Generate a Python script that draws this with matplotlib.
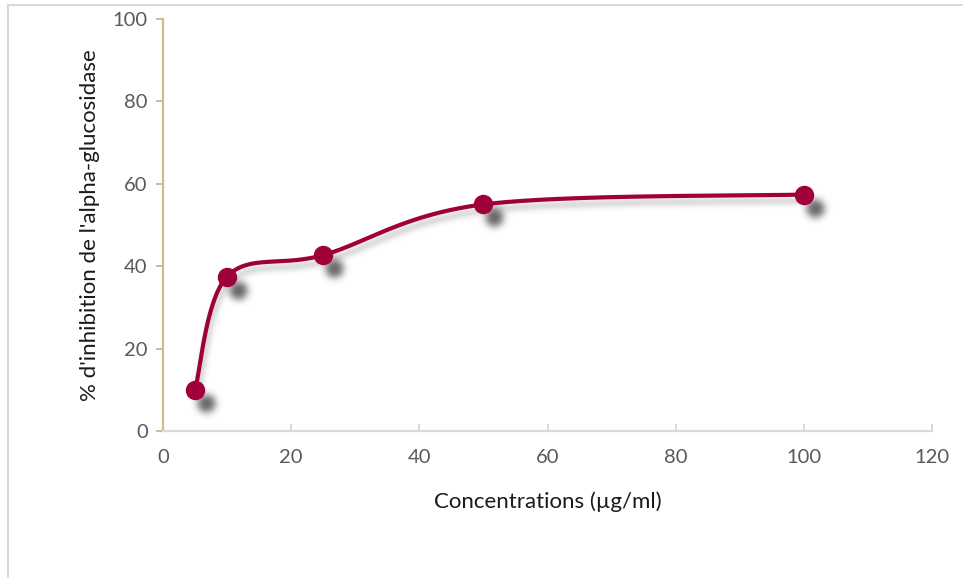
import matplotlib
matplotlib.use("Agg")
import matplotlib.pyplot as plt
import numpy as np
from matplotlib.patches import Rectangle

# concentrations and measured inhibition
conc = [5, 10, 25, 50, 100]
inhibition = [10.0, 37.5, 42.7, 55.0, 57.4]
x_ticks = [0, 20, 40, 60, 80, 100, 120]
y_ticks = [0, 20, 40, 60, 80, 100]

LINE_COLOR = "#A0003A"
plt.rcParams["font.family"] = ["Lato", "DejaVu Sans"]


def smooth_curve(xs, ys, n=60):
    # Catmull-Rom style bezier smoothing through every point
    xs = np.asarray(xs, float)
    ys = np.asarray(ys, float)
    px = np.concatenate([[xs[0]], xs, [xs[-1]]])
    py = np.concatenate([[ys[0]], ys, [ys[-1]]])
    out_x, out_y = [], []
    t = np.linspace(0, 1, n)
    for i in range(1, len(px) - 2):
        p0 = np.array([px[i], py[i]])
        p3 = np.array([px[i + 1], py[i + 1]])
        c1 = p0 + (np.array([px[i + 1], py[i + 1]]) - np.array([px[i - 1], py[i - 1]])) / 6
        c2 = p3 - (np.array([px[i + 2], py[i + 2]]) - np.array([px[i], py[i]])) / 6
        b = ((1 - t) ** 3)[:, None] * p0 + (3 * (1 - t) ** 2 * t)[:, None] * c1 \
            + (3 * (1 - t) * t ** 2)[:, None] * c2 + (t ** 3)[:, None] * p3
        out_x.extend(b[:, 0])
        out_y.extend(b[:, 1])
    return np.array(out_x), np.array(out_y)


def blur(a, sigma):
    r = int(3 * sigma)
    k = np.exp(-0.5 * (np.arange(-r, r + 1) / sigma) ** 2)
    k /= k.sum()
    out = np.zeros_like(a)
    for i, w in zip(range(-r, r + 1), k):
        out += w * np.roll(a, i, axis=0)
    a = out
    out = np.zeros_like(a)
    for i, w in zip(range(-r, r + 1), k):
        out += w * np.roll(a, i, axis=1)
    return out


def make_shadow(dx, dy, sigma, strength, gray=0.25):
    def shadow(im, dpi):
        pad = 40
        a = np.pad(im, [(pad, pad), (pad, pad), (0, 0)])
        alpha = blur(a[..., 3], sigma)
        res = np.zeros_like(a)
        res[..., :3] = gray
        res[..., 3] = np.clip(alpha * strength, 0, 1)
        res = np.roll(res, dx, axis=1)
        res = np.roll(res, dy, axis=0)
        return res, -pad, -pad
    return shadow


fig = plt.figure(figsize=(9.63, 5.78), dpi=100)
fig.patches.append(Rectangle((8 / 963, -0.1), 1.2, 1 - 5 / 578 + 0.1,
                             transform=fig.transFigure, fill=False,
                             edgecolor="#D9D9D9", linewidth=1.5))
ax = fig.add_axes([0.1693, 0.2543, 0.7985, 0.7128])

sx, sy = smooth_curve(conc, inhibition)

# soft drop shadows under the line and the markers
line_sh, = ax.plot(sx, sy, color="k", linewidth=3, zorder=2)
line_sh.set_agg_filter(make_shadow(2, 6, 3.0, 0.35))
mark_sh, = ax.plot(conc, inhibition, "o", color="k", markersize=12, zorder=2)
mark_sh.set_agg_filter(make_shadow(11, 13, 3.6, 0.8))

ax.plot(sx, sy, color=LINE_COLOR, linewidth=3, solid_capstyle="round", zorder=3)
ax.plot(conc, inhibition, "o", color=LINE_COLOR, markersize=13, zorder=4)

ax.set_xlim(0, 120)
ax.set_ylim(0, 100)
ax.set_xticks(x_ticks)
ax.set_yticks(y_ticks)

for side in ["top", "right"]:
    ax.spines[side].set_visible(False)
ax.spines["left"].set_color("#C8BE90")
ax.spines["left"].set_linewidth(1.6)
ax.spines["bottom"].set_color("#D9D9D9")
ax.spines["bottom"].set_linewidth(1.6)

ax.tick_params(axis="y", direction="out", length=5, width=1.4, color="#C8BE90",
               labelcolor="#595959", labelsize=14.5, pad=6)
ax.tick_params(axis="x", direction="in", length=5, width=1.4, color="#D9D9D9",
               labelcolor="#595959", labelsize=14.5, pad=13)

ax.set_xlabel("Concentrations (µg/ml)", fontsize=16, color="#1A1A1A", labelpad=18)
ax.set_ylabel("% d'inhibition de l'alpha-glucosidase", fontsize=16, color="#1A1A1A",
              labelpad=9)

fig.savefig("out.png", dpi=100)
